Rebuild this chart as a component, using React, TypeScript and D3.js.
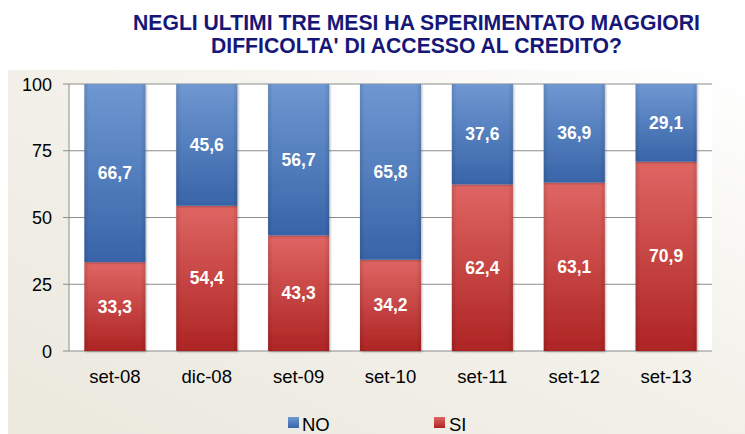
import React from 'react';
import * as d3 from 'd3';

const periods = ['set-08', 'dic-08', 'set-09', 'set-10', 'set-11', 'set-12', 'set-13'];
const siValues = [33.3, 54.4, 43.3, 34.2, 62.4, 63.1, 70.9];
const noValues = [66.7, 45.6, 56.7, 65.8, 37.6, 36.9, 29.1];
const yTicks = [0, 25, 50, 75, 100];
const titleLines = ['NEGLI ULTIMI TRE MESI HA SPERIMENTATO MAGGIORI', "DIFFICOLTA' DI ACCESSO AL  CREDITO?"];

const W = 745;
const H = 434;
const plot = { left: 69, right: 712, top: 84, bottom: 351 };

const fmt = (v: number) => v.toFixed(1).replace('.', ',');

export default function App() {
  const x = d3.scaleBand<string>().domain(periods).range([plot.left, plot.right]).paddingInner(0.335).paddingOuter(0.167);
  const y = d3.scaleLinear().domain([0, 100]).range([plot.bottom, plot.top]);

  const stacked = periods.map((p, i) => ({ p, si: siValues[i], no: noValues[i] }));
  const series = d3.stack<any>().keys(['si', 'no'])(stacked);

  const font = 'Liberation Sans, Arial, sans-serif';

  return (
    <svg width={W} height={H} style={{ position: 'absolute', left: 0, top: 0 }} fontFamily={font}>
      <defs>
        <linearGradient id="bg" x1="0" y1="1" x2="1" y2="0">
          <stop offset="0" stopColor="#ebe8de" />
          <stop offset="0.55" stopColor="#f3f1ea" />
          <stop offset="1" stopColor="#ffffff" />
        </linearGradient>
        <linearGradient id="gNO" x1="0" y1="0" x2="0" y2="1">
          <stop offset="0" stopColor="#6f98d2" />
          <stop offset="1" stopColor="#3864a8" />
        </linearGradient>
        <linearGradient id="gSI" x1="0" y1="0" x2="0" y2="1">
          <stop offset="0" stopColor="#df6663" />
          <stop offset="1" stopColor="#ae2424" />
        </linearGradient>
        <linearGradient id="shade" x1="0" y1="0" x2="1" y2="0">
          <stop offset="0" stopColor="#000" stopOpacity="0.12" />
          <stop offset="0.08" stopColor="#000" stopOpacity="0" />
          <stop offset="0.92" stopColor="#000" stopOpacity="0" />
          <stop offset="1" stopColor="#000" stopOpacity="0.12" />
        </linearGradient>
        <filter id="sh" x="-10%" y="-10%" width="120%" height="120%">
          <feDropShadow dx="1" dy="1" stdDeviation="1.2" floodColor="#000" floodOpacity="0.3" />
        </filter>
      </defs>

      <rect x={8} y={70} width={W - 8} height={H - 70} fill="url(#bg)" />
      <rect x={plot.left} y={plot.top} width={plot.right - plot.left} height={plot.bottom - plot.top} fill="#fff" />

      {titleLines.map((t, i) => (
        <text key={i} x={416.5} y={29.5 + i * 23} textAnchor="middle" fontSize={22} fontWeight="bold" fill="#171778"
          textLength={i === 0 ? 567 : 411} lengthAdjust="spacingAndGlyphs">{t}</text>
      ))}

      {yTicks.map(t => (
        <g key={t}>
          <line x1={plot.left} x2={plot.right} y1={y(t)} y2={y(t)} stroke="#8c8c8c" strokeWidth={1} />
          <line x1={plot.left - 6} x2={plot.left} y1={y(t)} y2={y(t)} stroke="#8c8c8c" />
          <text x={52} y={y(t) + 6.5} textAnchor="end" fontSize={18} fill="#000">{t}</text>
        </g>
      ))}
      <line x1={plot.left} x2={plot.left} y1={plot.top} y2={plot.bottom} stroke="#8c8c8c" />

      {series.map(s => (
        <g key={s.key}>
          {s.map((d, i) => {
            const x0 = x(periods[i])!;
            const y0 = y(d[1]);
            const h = y(d[0]) - y(d[1]);
            return (
              <g key={i}>
                <rect x={x0} y={y0} width={x.bandwidth()} height={h} fill={s.key === 'no' ? 'url(#gNO)' : 'url(#gSI)'} filter="url(#sh)" />
                <rect x={x0} y={y0} width={x.bandwidth()} height={h} fill="url(#shade)" />
              </g>
            );
          })}
        </g>
      ))}

      {series.map(s => s.map((d, i) => (
        <text key={s.key + i} x={x(periods[i])! + x.bandwidth() / 2} y={(y(d[0]) + y(d[1])) / 2 + 6}
          textAnchor="middle" fontSize={17.5} fontWeight="bold" fill="#fff">
          {fmt(s.key === 'no' ? noValues[i] : siValues[i])}
        </text>
      )))}

      {periods.map(p => (
        <text key={p} x={x(p)! + x.bandwidth() / 2} y={383} textAnchor="middle" fontSize={18.5} fill="#000">{p}</text>
      ))}

      <rect x={288} y={417} width={11} height={11} fill="url(#gNO)" />
      <text x={302} y={431} fontSize={18.5} fill="#000">NO</text>
      <rect x={434} y={417} width={11} height={11} fill="url(#gSI)" />
      <text x={449} y={431} fontSize={18.5} fill="#000">SI</text>
    </svg>
  );
}
